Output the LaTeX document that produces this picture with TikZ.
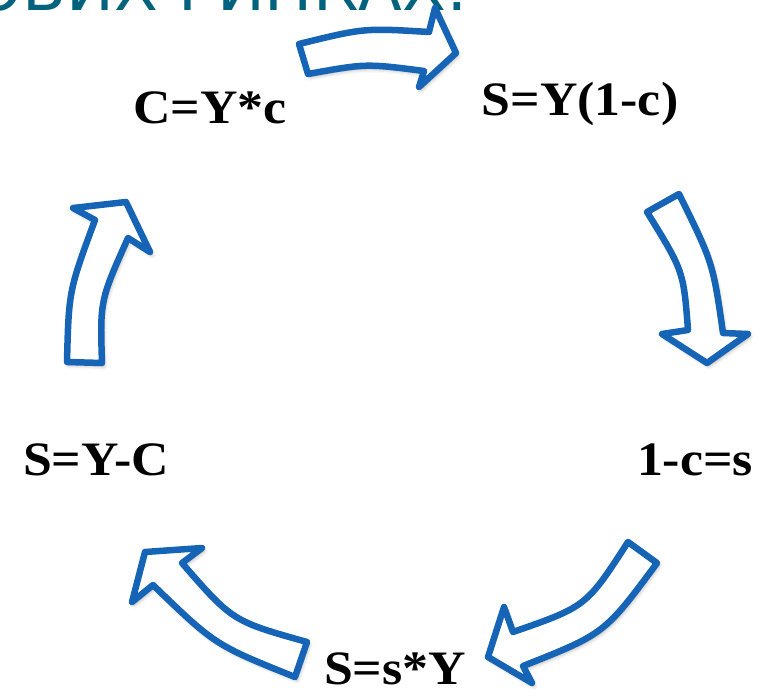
\documentclass[tikz,border=0pt]{standalone}
\usepackage{fontspec}
\newfontfamily\formfont{Liberation Serif}
\newfontfamily\titlefont{DejaVu Sans}
\usetikzlibrary{shadows.blur}
\definecolor{arrowblue}{RGB}{22,100,182}
\definecolor{titleteal}{RGB}{0,98,124}
\begin{document}
\begin{tikzpicture}[x=1pt,y=-1pt,
  blockarrow/.style={draw=arrowblue, line width=6.5pt, fill=white, line join=round,
    blur shadow={shadow xshift=2pt, shadow yshift=-3pt, shadow blur radius=4pt, shadow opacity=35}},
  formula/.style={font=\formfont\bfseries\fontsize{48}{52}\selectfont, xscale=1.08, anchor=base, inner sep=0pt},
  titletext/.style={font=\titlefont\fontsize{64}{70}\selectfont, text=titleteal, anchor=base east, inner sep=0pt}]
\useasboundingbox (0,0) rectangle (765,696);
\clip (0,0) rectangle (765,696);
\node[titletext] (title) at (468,10) {ОВИХ РИНКАХ:};
% top arrow (right)
\draw[blockarrow] (299,44) .. controls (364,28) .. (429,32) -- (435,8) -- (456,53) -- (419,87) -- (424,71) .. controls (366,63.5) .. (308,74) -- cycle;
% right arrow (down)
\draw[blockarrow] (647,212) -- (679,194) .. controls (713,263) .. (723,333) -- (748,334) -- (707,363) -- (662,334) -- (688,330) .. controls (683.5,271) .. (647,212) -- cycle;
% bottom-right arrow (down-left)
\draw[blockarrow] (628,542) -- (657,563) .. controls (604.6,633.7) .. (523,666) -- (532,683) -- (488,657) -- (504,607) -- (513,632) .. controls (586.3,606.5) .. (628,542) -- cycle;
% bottom-left arrow (up-left)
\draw[blockarrow] (307,642) -- (295,677) .. controls (215.1,645) .. (153,585) -- (132,602) -- (145,552) -- (202,548) -- (182,563) .. controls (232.5,621.1) .. (307,642) -- cycle;
% left arrow (up)
\draw[blockarrow] (67,362) -- (102,363) .. controls (100,300.5) .. (128,238) -- (150,252) -- (126,202) -- (73,208) -- (95,220) .. controls (68.8,290.8) .. (67,362) -- cycle;
% formulas
\node[formula] (cyc) at (210,123) {C=Y*c};
\node[formula] (syc) at (580,115) {S=Y(1-c)};
\node[formula] (cs) at (695,475) {1-c=s};
\node[formula] (syC) at (96,475) {S=Y-C};
\node[formula] (ssy) at (395,684) {S=s*Y};
\end{tikzpicture}
\end{document}
